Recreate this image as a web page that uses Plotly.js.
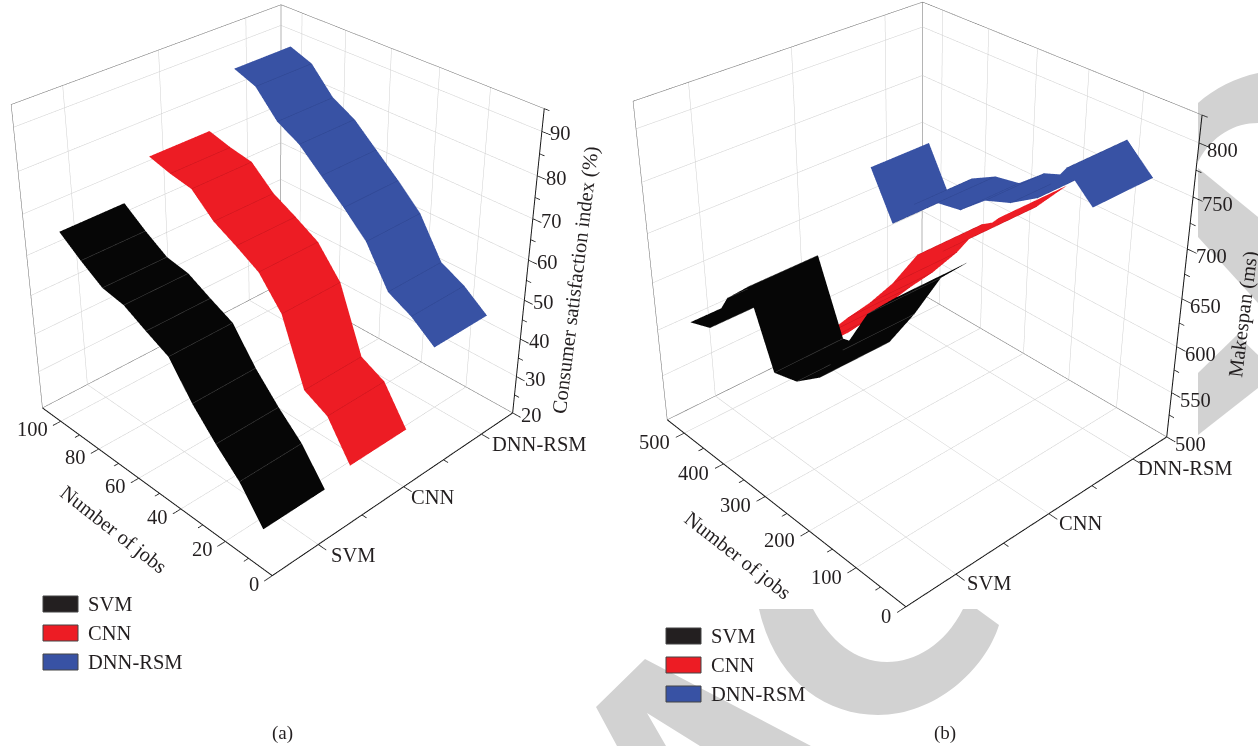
<!DOCTYPE html>
<html><head><meta charset="utf-8">
<script src="https://cdn.plot.ly/plotly-3.0.1.min.js"></script>
<style>html,body{margin:0;padding:0;background:#fff;width:1258px;height:746px;overflow:hidden;position:relative}
#c{position:absolute;left:0;width:1258px}</style>
</head><body><div id="c"></div>
<script>
var cats=['SVM','CNN','DNN-RSM'];
var catPos=[1,2,3];
var catMinor=[1.5,2.5];
var jobsA=[10,20,30,40,50,60,70,80,90,100];
var svmA=[25,33,38.5,44.8,52.7,55.5,58.5,59.5,63,67];
var cnnA=[27,36,39,54.7,61.7,65,68,73,74,75.5];
var dnnA=[44.5,49,52,61.5,67,72,77,80,86,88];
var jobsB=[50,100,150,200,250,300,350,400,450,500];
var svmB=[768,740,692,650,630,623,693,668,623,614];
var cnnB=[794,763,738,721,680,646,616,584,551,521];
var dnnB=[762,786,746,729,719,697,692,678,645,693];
var jobTicksA=[0,20,40,60,80,100], jobMinorA=[10,30,50,70,90];
var zTicksA=[20,30,40,50,60,70,80,90], zMinorA=[25,35,45,55,65,75,85,95];
var jobTicksB=[0,100,200,300,400,500], jobMinorB=[50,150,250,350,450];
var zTicksB=[500,550,600,650,700,750,800], zMinorB=[525,575,625,675,725,775,825];
var legendLabels=cats;
var colors=['#060606','#ed1c24','#3852a4'];
var meshColors=['#4a4a4a','#c9141c','#2e4590'];

var H=1250, CY=268, TOP=H/2-CY;
document.getElementById('c').style.top=(-TOP)+'px';
var FONT='Liberation Serif', FS=20.5, TC='#231f20';
function py(y){return 1-(y+TOP)/H}
function px(x){return x/1258}

function seg(list,pts){pts.forEach(function(p){list.x.push(p[0]);list.y.push(p[1]);list.z.push(p[2])});list.x.push(null);list.y.push(null);list.z.push(null)}
function lines(l,color,w,scene){return {type:'scatter3d',mode:'lines',scene:scene,x:l.x,y:l.y,z:l.z,hoverinfo:'skip',showlegend:false,connectgaps:false,line:{color:color,width:w}}}

var traces=[], scenes={};
function panel(o){
  var xr=o.xr,yr=o.yr,zr=o.zr,sc=o.scene;
  var yLen=yr[1]-yr[0],xLen=xr[1]-xr[0],zLen=zr[1]-zr[0];
  var dxMaj=0.085,dxMin=0.05,dyMaj=yLen*0.03,dyMin=yLen*0.017;
  var grid={x:[],y:[],z:[]},frame={x:[],y:[],z:[]},axisL={x:[],y:[],z:[]},tick={x:[],y:[],z:[]};
  catPos.forEach(function(c){seg(grid,[[c,yr[0],zr[0]],[c,yr[1],zr[0]]]);seg(grid,[[c,yr[1],zr[0]],[c,yr[1],zr[1]]]);
    seg(tick,[[c,yr[0],zr[0]],[c,yr[0]-dyMaj,zr[0]]])});
  catMinor.forEach(function(c){seg(tick,[[c,yr[0],zr[0]],[c,yr[0]-dyMin,zr[0]]])});
  o.jt.forEach(function(j){if(j>yr[0]){seg(grid,[[xr[0],j,zr[0]],[xr[1],j,zr[0]]]);seg(grid,[[xr[1],j,zr[0]],[xr[1],j,zr[1]]])}
    seg(tick,[[xr[0],j,zr[0]],[xr[0]-dxMaj,j,zr[0]]])});
  o.jm.forEach(function(j){seg(tick,[[xr[0],j,zr[0]],[xr[0]-dxMin,j,zr[0]]])});
  o.zt.forEach(function(z){if(z>zr[0]){seg(grid,[[xr[0],yr[1],z],[xr[1],yr[1],z]]);seg(grid,[[xr[1],yr[1],z],[xr[1],yr[0],z]])}
    seg(tick,[[xr[1],yr[0],z],[xr[1],yr[0]-dyMaj,z]])});
  o.zm.forEach(function(z){if(z<=zr[1])seg(tick,[[xr[1],yr[0],z],[xr[1],yr[0]-dyMin,z]])});
  seg(frame,[[xr[0],yr[1],zr[0]],[xr[1],yr[1],zr[0]],[xr[1],yr[0],zr[0]]]);
  seg(frame,[[xr[0],yr[1],zr[0]],[xr[0],yr[1],zr[1]],[xr[1],yr[1],zr[1]],[xr[1],yr[0],zr[1]]]);
  seg(frame,[[xr[1],yr[1],zr[0]],[xr[1],yr[1],zr[1]]]);
  seg(axisL,[[xr[0],yr[1],zr[0]],[xr[0],yr[0],zr[0]],[xr[1],yr[0],zr[0]],[xr[1],yr[0],zr[1]]]);
  traces.push(lines(grid,'#cfcfcf',1,sc),lines(frame,'#6a6a6a',1,sc),lines(axisL,'#151515',2,sc),lines(tick,'#151515',1.5,sc));
  o.series.forEach(function(v,i){
    var c=catPos[i]+o.rs[i],w=o.w;
    traces.push({type:'surface',scene:sc,showscale:false,hoverinfo:'skip',
      x:[c-w,c+w],y:o.jobs,z:v.map(function(a){return [a,a]}),
      colorscale:[[0,colors[i]],[1,colors[i]]],
      lighting:{ambient:1,diffuse:0,specular:0,roughness:1,fresnel:0},
      contours:{x:{show:false},z:{show:false},y:{show:true,color:meshColors[i],width:1,start:o.jobs[0],end:o.jobs[o.jobs.length-1],size:o.jobs[1]-o.jobs[0]}}});
  });
  var xe=[xr[0]-0.2,xr[1]+0.02],ye=[yr[0]-yLen*0.06,yr[1]+yLen*0.01],ze=[zr[0]-zLen*0.01,zr[1]+zLen*0.01];
  var ya=o.a*o.ya;
  var ax=o.a*(xe[1]-xe[0])/xLen,ay=ya*(ye[1]-ye[0])/yLen,az=o.az*(ze[1]-ze[0])/zLen;
  var C={x:o.a*((xr[0]+xr[1])/2-(xe[0]+xe[1])/2)/xLen,y:ya*((yr[0]+yr[1])/2-(ye[0]+ye[1])/2)/yLen,z:o.az*((zr[0]+zr[1])/2-(ze[0]+ze[1])/2)/zLen+o.cz};
  var e=o.el*Math.PI/180,az0=o.azim*Math.PI/180;
  var eye={x:C.x-o.d*Math.cos(e)*Math.cos(az0),y:C.y-o.d*Math.cos(e)*Math.sin(az0),z:C.z+o.d*Math.sin(e)};
  function hid(r){return {range:r,visible:false,showgrid:false,zeroline:false,showline:false,showticklabels:false,ticks:'',showbackground:false,showspikes:false,title:{text:''}}}
  var ann=[];
  function lab(x,y,z,t,dx,dy,ang,fs){ann.push({x:x,y:y,z:z,text:t,showarrow:false,xshift:dx,yshift:-dy,textangle:ang||0,xanchor:'center',yanchor:'middle',font:{family:FONT,size:fs||FS,color:TC}})}
  o.jt.forEach(function(j,i){lab(xr[0],j,zr[0],String(j),o.jl[0]-(String(j).length*5),o.jl[1])});
  catPos.forEach(function(c,i){lab(c,yr[0],zr[0],cats[i],o.cl[i],o.cly)});
  o.zt.forEach(function(z){lab(xr[1],yr[0],z,String(z),o.zl[0],o.zl[1])});
  lab(xr[0],o.jTy,zr[0],'Number of jobs',o.jT[0],o.jT[1],o.jT[2]);
  lab(xr[1],yr[0],(zr[0]+zr[1])/2,o.zTitle,o.zT[0],o.zT[1],o.zT[2]);
  scenes[sc==='scene'?'scene':'scene2']={domain:{x:o.dom,y:[0,1]},aspectmode:'manual',aspectratio:{x:ax,y:ay,z:az},
    xaxis:hid(xe),yaxis:hid(ye),zaxis:hid(ze),camera:{eye:eye,center:C,up:{x:0,y:0,z:1}},annotations:ann,bgcolor:'rgba(0,0,0,0)'};
}
panel({scene:'scene',dom:[0,554/1258],xr:[0.5,3.43],yr:[0,110],zr:[20,95],a:1,ya:1,az:1.01,d:4.27,el:32,azim:46,cz:0,w:0.34,rs:[0,-0.03,-0.05],
  jobs:jobsA,series:[svmA,cnnA,dnnA],jt:jobTicksA,jm:jobMinorA,zt:zTicksA,zm:zMinorA,
  jl:[-13,8],cl:[35,29,58],cly:10,zl:[19,2],jTy:55,jT:[-36,44,38],zT:[48,10,-83],zTitle:'Consumer satisfaction index (%)'});
panel({scene:'scene2',dom:[572/1258,1],xr:[0.5,3.43],yr:[0,545],zr:[500,825],a:1.05,ya:1.025,az:1.06,d:4.24,el:31.5,azim:47.5,cz:0.035,w:0.34,rs:[0,-0.04,-0.06],
  jobs:jobsB,series:[svmB,cnnB,dnnB],jt:jobTicksB,jm:jobMinorB,zt:zTicksB,zm:zMinorB,
  jl:[-15,9],cl:[33,32,53],cly:9,zl:[24,7],jTy:272,jT:[-40,50,38],zT:[60,28,-83],zTitle:'Makespan (ms)'});

var shapes=[],annotations=[];
function P(x,y){return px(x)+' '+py(y)}
var WM='#d2d2d2';
var wm=[
 'M'+P(759,609)+' C'+P(775,680)+' '+P(825,715)+' '+P(878,715)+' C'+P(935,715)+' '+P(985,670)+' '+P(999,625)+' L'+P(977,609)+' L'+P(963,609)+' C'+P(945,645)+' '+P(915,662)+' '+P(887,662)+' C'+P(855,662)+' '+P(830,640)+' '+P(813,609)+' Z',
 'M'+P(596,707)+' L'+P(645,659)+' L'+P(811,746)+' L'+P(700,746)+' L'+P(647,713)+' L'+P(666,746)+' L'+P(617,746)+' Z',
 'M'+P(1198,103)+' C'+P(1215,88)+' '+P(1235,78)+' '+P(1258,73)+' L'+P(1258,123)+' C'+P(1235,123)+' '+P(1212,135)+' '+P(1198,162)+' Z',
 'M'+P(1198,168)+' L'+P(1258,217)+' L'+P(1258,303)+' L'+P(1198,237)+' Z',
 'M'+P(1198,373)+' L'+P(1237,335)+' L'+P(1258,355)+' L'+P(1258,388)+' L'+P(1198,435)+' Z'
];
wm.forEach(function(p){shapes.push({type:'path',xref:'paper',yref:'paper',path:p,fillcolor:WM,line:{width:0},layer:'below'})});
function legend(x0,y0){
  legendLabels.forEach(function(t,i){
    var y=y0+i*29;
    shapes.push({type:'rect',xref:'paper',yref:'paper',x0:px(x0),x1:px(x0+35),y0:py(y-8),y1:py(y+8),fillcolor:colors[i]==='#060606'?'#231f20':colors[i],line:{color:'#444',width:1}});
    annotations.push({xref:'paper',yref:'paper',x:px(x0+43),y:py(y),xanchor:'left',yanchor:'middle',showarrow:false,text:t,font:{family:FONT,size:FS,color:TC}});
  });
}
legend(43,604);legend(666,636);
annotations.push({xref:'paper',yref:'paper',x:px(282),y:py(733),xanchor:'center',yanchor:'middle',showarrow:false,text:'(a)',font:{family:FONT,size:19,color:TC}});
annotations.push({xref:'paper',yref:'paper',x:px(945),y:py(733),xanchor:'center',yanchor:'middle',showarrow:false,text:'(b)',font:{family:FONT,size:19,color:TC}});
var layout={width:1258,height:H,margin:{l:0,r:0,t:0,b:0},paper_bgcolor:'#fff',showlegend:false,shapes:shapes,annotations:annotations,scene:scenes.scene,scene2:scenes.scene2};
Plotly.newPlot('c',traces,layout,{displayModeBar:false});
</script></body></html>
